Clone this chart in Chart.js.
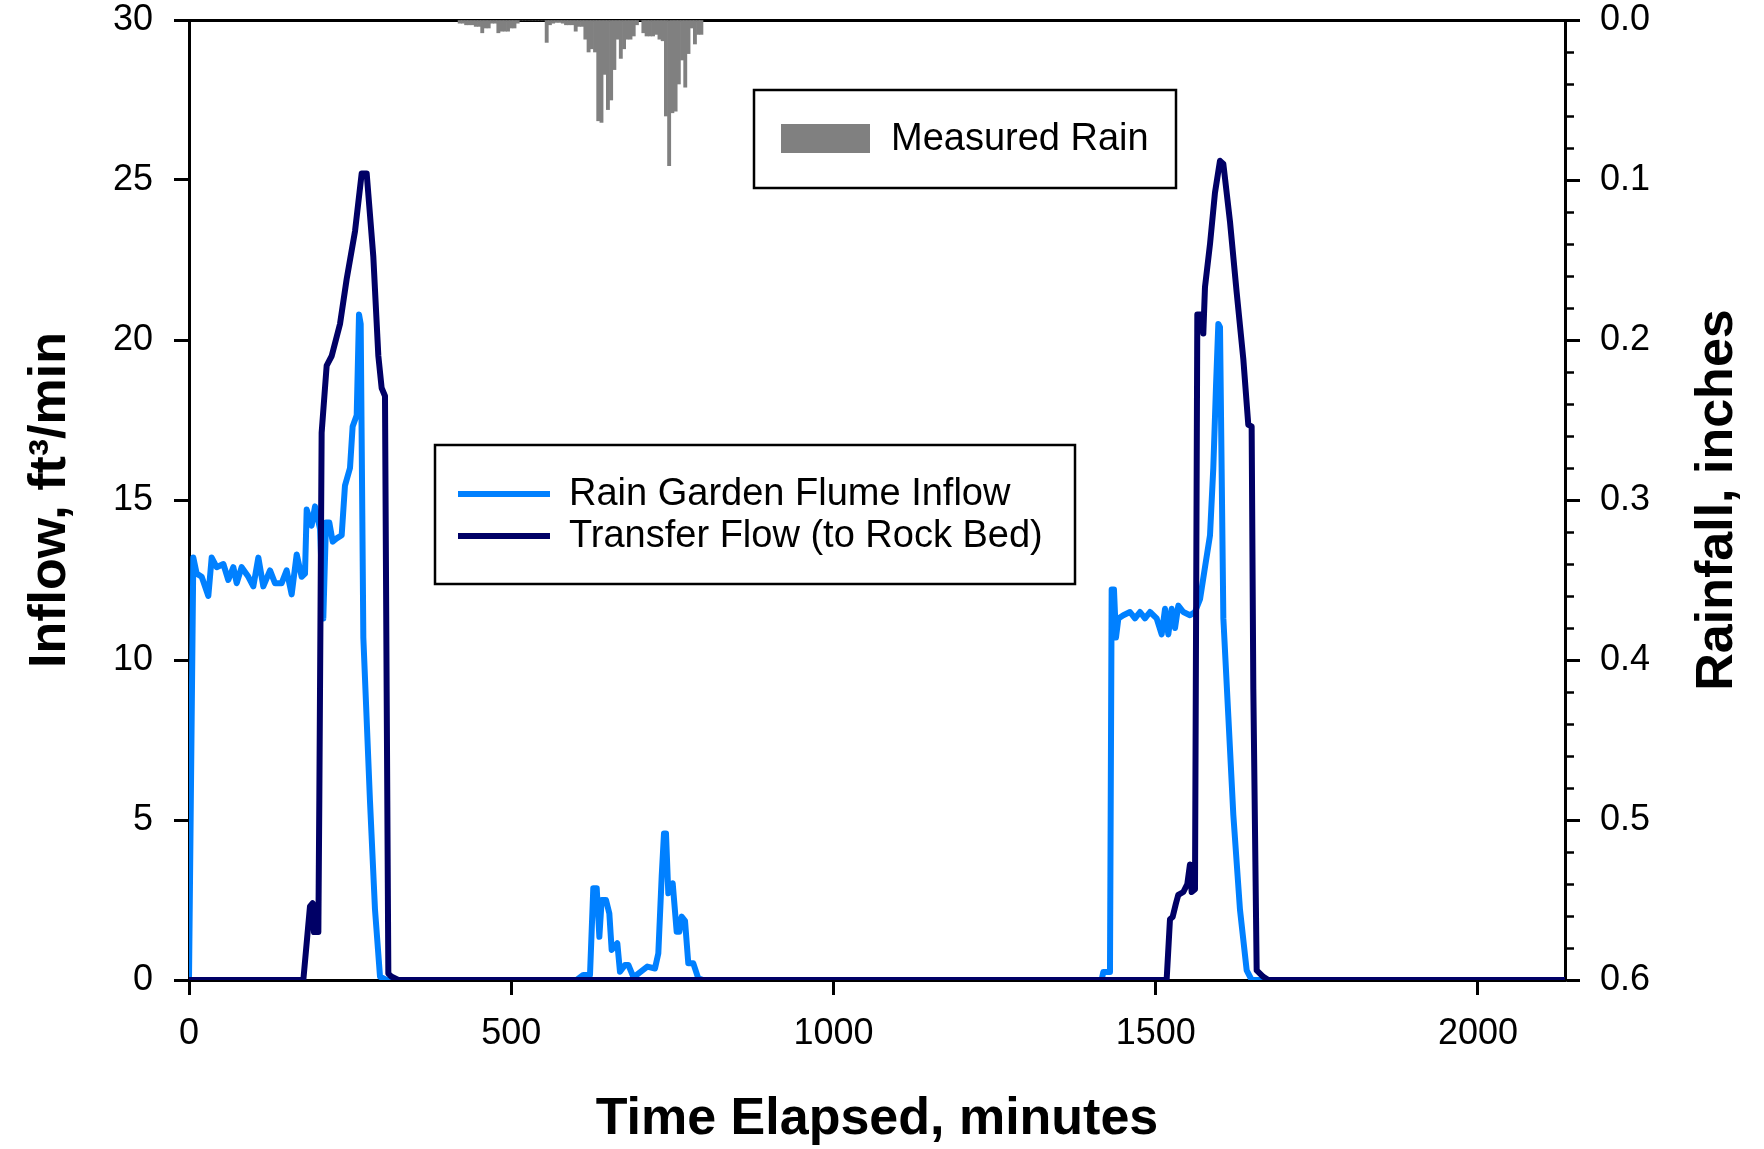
<!DOCTYPE html>
<html>
<head>
<meta charset="utf-8">
<title>Rain garden inflow</title>
<script src="https://cdn.jsdelivr.net/npm/chart.js@4.4.1/dist/chart.umd.min.js"></script>
<style>
  html, body { margin: 0; padding: 0; background: #fff; }
  canvas { display: block; }
</style>
</head>
<body>
<canvas id="flowChart" width="1764" height="1149"></canvas>
<script>
// minutes since start / ft3 per min
const flumeTime = [0, 6.7, 11.9, 19.7, 30, 35.2, 42.9, 53.3, 61, 68.8, 74, 81.7, 92.1, 99.8, 107.6, 115.3,
  125.7, 133.4, 143.8, 151.5, 159.3, 167.1, 174.8, 180, 182.6, 190.3, 195.5, 203.3, 208.4, 212.6, 217.7,
  222.9, 229.1, 236.9, 242, 249.8, 253.9, 260.2, 263.8, 266.4, 270.5, 280.8, 288.6, 296.4, 306.7,
  601.5, 611.8, 622.2, 627.3, 632.6, 636.7, 640.3, 647, 652.2, 655.8, 664.6, 668.7, 676.5, 681.7, 689.4,
  694.6, 711.1, 723, 728.2, 733.4, 737, 740.1, 743.7, 750.5, 756.7, 760.8, 764.4, 769.6, 774.7, 782.5,
  790.2, 798, 1416, 1418.7, 1429, 1431.6, 1435.2, 1438.3, 1442, 1449.7, 1460, 1467.8, 1475.6, 1483.3,
  1491.1, 1501.4, 1509.2, 1514.4, 1519.5, 1524.7, 1529.9, 1535, 1542.8, 1553.1, 1560.9, 1568.7, 1576.4,
  1584.2, 1589.3, 1593.5, 1597.1, 1599.7, 1604.9, 1612.6, 1620.4, 1630.7, 1641.1, 1648.8, 2133];
const flumeInflow = [0, 13.2, 12.7, 12.6, 12.0, 13.2, 12.9, 13.0, 12.5, 12.9, 12.4, 12.9, 12.6, 12.3, 13.2, 12.3,
  12.8, 12.4, 12.4, 12.8, 12.05, 13.3, 12.6, 12.7, 14.7, 14.2, 14.8, 14.1, 11.3, 14.3, 14.3,
  13.7, 13.8, 13.9, 15.45, 16.0, 17.3, 17.65, 20.8, 20.5, 10.7, 5.6, 2.2, 0.1, 0,
  0, 0.16, 0.16, 2.87, 2.87, 1.35, 2.5, 2.5, 2.08, 0.94, 1.15, 0.26, 0.47, 0.47, 0.1,
  0.16, 0.42, 0.36, 0.83, 3.23, 4.58, 4.58, 2.71, 3.02, 1.51, 1.51, 1.98, 1.85, 0.52, 0.52,
  0.05, 0, 0, 0.25, 0.25, 12.2, 12.2, 10.7, 11.3, 11.4, 11.5, 11.3, 11.5, 11.3,
  11.5, 11.3, 10.8, 11.6, 10.8, 11.6, 11.0, 11.7, 11.5, 11.4, 11.5, 11.9, 12.9,
  13.9, 16.0, 18.55, 20.5, 20.4, 11.3, 8.25, 5.15, 2.2, 0.3, 0, 0];

const transferTime = [0, 177.4, 187.7, 191.9, 193.9, 200.7, 202.2, 205.8, 213.6, 221.4, 234.3, 244.6, 257.6,
  267.9, 275.7, 286, 293.8, 298.9, 304.1, 306.7, 309.3, 314.5, 324.8,
  1516.9, 1522.1, 1526.2, 1531.4, 1535, 1542.8, 1549, 1553.1, 1555.7, 1560.9, 1564.5, 1571.2, 1573.8,
  1576.4, 1584.2, 1591.9, 1599.7, 1604.9, 1615.2, 1625.5, 1635.9, 1643.6, 1648.8, 1651.4, 1656.6,
  1666.9, 1674.7, 2133];
const transferFlow = [0, 0, 2.3, 2.4, 1.5, 1.5, 5.6, 17.1, 19.2, 19.5, 20.5, 21.9, 23.4,
  25.2, 25.2, 22.6, 19.5, 18.5, 18.25, 9, 0.2, 0.1, 0,
  0, 1.9, 1.97, 2.4, 2.66, 2.75, 3.0, 3.61, 2.75, 2.84, 20.8, 20.8, 20.2,
  21.65, 23.0, 24.6, 25.6, 25.5, 23.7, 21.5, 19.4, 17.35, 17.3, 9.1, 0.3,
  0.1, 0, 0];

// 5-minute rain totals, inches
const rainTime = [420, 425, 430, 435, 440, 445, 450, 455, 460, 465, 470, 475, 480, 485, 490, 495, 500,
  505, 510, 515, 520, 525, 530, 535, 540, 545, 550, 555, 560, 565, 570, 575, 580, 585, 590, 595, 600,
  605, 610, 615, 620, 625, 630, 635, 640, 645, 650, 655, 660, 665, 670, 675, 680, 685, 690, 695, 700,
  705, 710, 715, 720, 725, 730, 735, 740, 745, 750, 755, 760, 765, 770, 775, 780, 785, 790, 795];
const rainDepth = [0.002, 0.002, 0.003, 0.003, 0.003, 0.004, 0.004, 0.008, 0.005, 0.005, 0.002, 0.002, 0.008,
  0.007, 0.007, 0.007, 0.005, 0.005, 0.002, 0, 0, 0, 0, 0, 0, 0, 0, 0.014, 0.003, 0.002, 0.0015, 0.0015,
  0.002, 0.003, 0.003, 0.003, 0.007, 0.004, 0.004, 0.012, 0.020, 0.018, 0.020, 0.063, 0.064, 0.034, 0.056,
  0.050, 0.031, 0.012, 0.024, 0.018, 0.012, 0.012, 0.010, 0.003, 0, 0.008, 0.010, 0.010, 0.010, 0.009,
  0.012, 0.013, 0.060, 0.091, 0.058, 0.057, 0.040, 0.025, 0.042, 0.021, 0.005, 0.015, 0.009, 0.009];

const timeTicks = [0, 500, 1000, 1500, 2000];
const inflowTicks = [0, 5, 10, 15, 20, 25, 30];
const rainTicks = [0, 0.1, 0.2, 0.3, 0.4, 0.5, 0.6];

const FONT = '"Liberation Sans", Arial, sans-serif';
Chart.defaults.font.family = FONT;
Chart.defaults.color = '#000';

const pts = (xs, ys) => xs.map((x, i) => ({ x: x, y: ys[i] }));
const fixedTicks = list => scale => { scale.ticks = list.map(v => ({ value: v })); };
// pin a vertical axis to a set width and stop it pushing the plot down
const pinWidth = w => s => { s.width = w; s.paddingTop = 0; s.paddingBottom = 0; };

// legends sit inside the plot, so draw them by hand
const legendBoxes = {
  id: 'legendBoxes',
  afterDatasetsDraw(chart) {
    const ctx = chart.ctx;
    const ds = chart.data.datasets;
    ctx.save();
    ctx.lineWidth = 2.5;
    ctx.strokeStyle = '#000';
    ctx.fillStyle = '#fff';
    ctx.fillRect(754, 90, 422, 98);
    ctx.strokeRect(754, 90, 422, 98);
    ctx.fillRect(435, 445, 640, 139);
    ctx.strokeRect(435, 445, 640, 139);

    ctx.fillStyle = ds[2].backgroundColor;
    ctx.fillRect(781, 124, 89, 29);

    ctx.lineWidth = 6;
    ctx.strokeStyle = ds[1].borderColor;
    ctx.beginPath(); ctx.moveTo(458, 494); ctx.lineTo(550, 494); ctx.stroke();
    ctx.strokeStyle = ds[0].borderColor;
    ctx.beginPath(); ctx.moveTo(458, 536); ctx.lineTo(550, 536); ctx.stroke();

    ctx.fillStyle = '#000';
    ctx.font = '38px ' + FONT;
    ctx.textBaseline = 'middle';
    ctx.textAlign = 'left';
    ctx.fillText(ds[2].label, 891, 140);
    ctx.fillText(ds[1].label, 569, 495);
    ctx.fillText(ds[0].label, 569, 537);
    ctx.restore();
  }
};

// right title reads bottom-to-top like the left one
const rightTitle = {
  id: 'rightTitle',
  afterDraw(chart) {
    const ctx = chart.ctx;
    const area = chart.chartArea;
    ctx.save();
    ctx.translate(1718, (area.top + area.bottom) / 2);
    ctx.rotate(-Math.PI / 2);
    ctx.font = 'bold 52px ' + FONT;
    ctx.fillStyle = '#000';
    ctx.textAlign = 'center';
    ctx.textBaseline = 'middle';
    ctx.fillText('Rainfall, inches', 0, 0);
    ctx.restore();
  }
};

const tickFont = { size: 36, lineHeight: 1 };
const titleFont = { size: 52, weight: 'bold', lineHeight: 1 };

new Chart(document.getElementById('flowChart'), {
  type: 'line',
  data: {
    datasets: [
      {
        label: 'Transfer Flow (to Rock Bed)',
        data: pts(transferTime, transferFlow),
        borderColor: '#000066',
        borderWidth: 6,
        borderJoinStyle: 'round',
        borderCapStyle: 'round',
        pointRadius: 0,
        tension: 0,
        yAxisID: 'y',
        order: 0
      },
      {
        label: 'Rain Garden Flume Inflow',
        data: pts(flumeTime, flumeInflow),
        borderColor: '#0080ff',
        borderWidth: 6,
        borderJoinStyle: 'round',
        borderCapStyle: 'round',
        pointRadius: 0,
        tension: 0,
        yAxisID: 'y',
        order: 1
      },
      {
        type: 'bar',
        label: 'Measured Rain',
        data: pts(rainTime, rainDepth),
        backgroundColor: '#808080',
        borderWidth: 0,
        barPercentage: 1,
        categoryPercentage: 1,
        yAxisID: 'y2',
        order: 2
      }
    ]
  },
  options: {
    responsive: false,
    animation: false,
    devicePixelRatio: 1,
    layout: { padding: { top: 20, left: 0, right: 0, bottom: 0 } },
    plugins: {
      legend: { display: false },
      tooltip: { enabled: false }
    },
    scales: {
      x: {
        type: 'linear',
        position: 'bottom',
        min: 0,
        max: 2135,
        offset: false,
        afterBuildTicks: fixedTicks(timeTicks),
        ticks: { padding: 21, font: tickFont, color: '#000', callback: v => String(v) },
        grid: { drawOnChartArea: false, tickLength: 15, tickWidth: 3, color: '#000', offset: false },
        border: { color: '#000', width: 3 },
        title: { display: true, text: 'Time Elapsed, minutes', font: titleFont, color: '#000', padding: { top: 0, bottom: 3 } },
        afterFit(s) { s.height = 169; s.paddingLeft = 0; s.paddingRight = 0; }
      },
      xTop: {
        type: 'linear',
        position: 'top',
        min: 0,
        max: 2135,
        ticks: { display: false },
        grid: { drawOnChartArea: false, drawTicks: false },
        border: { color: '#000', width: 3 },
        afterFit(s) { s.height = 0; s.paddingLeft = 0; s.paddingRight = 0; }
      },
      y: {
        type: 'linear',
        position: 'left',
        min: 0,
        max: 30,
        afterBuildTicks: fixedTicks(inflowTicks),
        ticks: { padding: 21, font: tickFont, color: '#000' },
        grid: { drawOnChartArea: false, tickLength: 15, tickWidth: 3, color: '#000' },
        border: { color: '#000', width: 3 },
        title: { display: true, text: 'Inflow, ft³/min', font: titleFont, color: '#000', padding: { top: 25, bottom: 0 } },
        afterFit: pinWidth(189)
      },
      yMinor: {
        type: 'linear',
        position: 'right',
        weight: 0,
        min: 0,
        max: 0.6,
        reverse: true,
        ticks: { display: false, stepSize: 0.02 },
        grid: { drawOnChartArea: false, tickLength: 9, tickWidth: 2.5, color: '#000' },
        border: { display: false },
        afterFit: pinWidth(0)
      },
      y2: {
        type: 'linear',
        position: 'right',
        weight: 1,
        min: 0,
        max: 0.6,
        reverse: true,
        afterBuildTicks: fixedTicks(rainTicks),
        ticks: {
          padding: 20,
          font: tickFont,
          color: '#000',
          callback: v => v.toFixed(1)
        },
        grid: { drawOnChartArea: false, tickLength: 15, tickWidth: 3, color: '#000' },
        border: { color: '#000', width: 3 },
        afterFit: pinWidth(199)
      }
    }
  },
  plugins: [legendBoxes, rightTitle]
});
</script>
</body>
</html>
